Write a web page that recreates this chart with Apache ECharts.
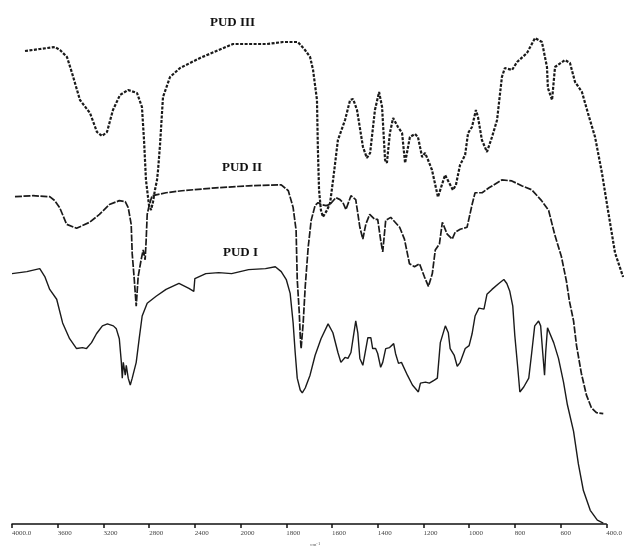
<!DOCTYPE html>
<html>
<head>
<meta charset="utf-8">
<script src="https://cdn.jsdelivr.net/npm/echarts@6/dist/echarts.min.js"></script>
<style>
    html, body { margin: 0; padding: 0; background: #fff; }
    #chart { width: 625px; height: 552px; }
</style>
</head>
<body>
<div id="chart"></div>
<script>
// 横轴刻度（红外谱常见的双比例：4000-2000 每格400，2000-400 每格200）
const tickLabels = ['4000.0', '3600', '3200', '2800', '2400', '2000', '1800', '1600',
    '1400', '1200', '1000', '800', '600', '400.0'];

// PUD III（点线）
const pud3Wn = [3887, 3757, 3626, 3583, 3522, 3478, 3409, 3322, 3261, 3217, 3174, 3122, 3061,
    2991, 2913, 2870, 2852, 2835, 2809, 2791, 2774, 2757, 2739, 2730, 2713, 2687, 2626, 2539,
    2365, 2078, 1891, 1822, 1757, 1726, 1704, 1691, 1674, 1670, 1665, 1657, 1648, 1630, 1617,
    1604, 1583, 1552, 1530, 1517, 1500, 1474, 1457, 1443, 1422, 1404, 1391, 1378, 1370, 1357,
    1343, 1322, 1304, 1291, 1270, 1248, 1235, 1217, 1204, 1191, 1174, 1148, 1117, 1083, 1070,
    1052, 1030, 1017, 1000, 983, 974, 957, 935, 913, 891, 870, 857, 826, 804, 761, 726, 696,
    674, 670, 652, 639, 596, 574, 552, 522, 496, 465, 435, 409, 378, 343];
const pud3T = [96.0, 96.4, 96.8, 96.2, 94.8, 91.6, 86.2, 83.6, 79.8, 79.0, 79.8, 84.2, 87.2,
    88.2, 87.6, 84.8, 78.2, 70.2, 65.2, 64.2, 65.8, 68.2, 70.2, 72.2, 77.2, 86.8, 90.8, 92.6,
    94.6, 97.4, 97.4, 97.8, 97.8, 96.2, 94.8, 92.2, 86.2, 76.2, 68.2, 64.2, 62.8, 64.2, 65.6,
    70.2, 78.2, 82.2, 86.2, 86.4, 84.2, 76.8, 74.6, 75.6, 84.2, 87.8, 84.8, 74.2, 73.6, 79.6,
    82.6, 80.8, 79.6, 73.6, 78.8, 79.4, 78.8, 74.8, 75.6, 74.2, 72.2, 66.8, 71.2, 68.2, 69.2,
    73.2, 75.2, 79.6, 80.8, 84.2, 82.8, 78.2, 75.8, 78.8, 82.2, 90.8, 92.6, 92.2, 93.8, 95.6, 98.6, 97.8,
    92.8, 88.6, 86.2, 92.8, 94.2, 93.6, 89.8, 87.8, 83.6, 78.8, 71.6, 64.2, 55.6, 50.8];

// PUD II（虚线）
const pud2Wn = [3974, 3817, 3670, 3626, 3583, 3522, 3435, 3322, 3235, 3148, 3061, 3009, 2983,
    2957, 2948, 2930, 2913, 2896, 2870, 2852, 2835, 2826, 2817, 2800, 2774, 2652, 2513, 2217,
    1965, 1822, 1791, 1770, 1757, 1752, 1743, 1739, 1735, 1726, 1717, 1704, 1691, 1674, 1661,
    1648, 1626, 1609, 1583, 1565, 1552, 1539, 1517, 1496, 1478, 1465, 1452, 1435, 1413, 1400,
    1387, 1378, 1365, 1343, 1304, 1283, 1261, 1239, 1217, 1196, 1178, 1161, 1148, 1130, 1117,
    1096, 1074, 1061, 1039, 1009, 987, 974, 943, 913, 857, 813, 770, 726, 683, 652, 626, 596,
    574, 561, 543, 530, 509, 487, 465, 443, 413];
const pud2T = [66.4, 66.6, 66.4, 65.6, 64.2, 60.8, 60.0, 61.2, 62.8, 64.8, 65.6, 65.4, 64.2,
    60.8, 54.8, 49.6, 44.2, 50.2, 53.6, 55.6, 53.6, 57.6, 62.8, 64.6, 66.6, 67.2, 67.6, 68.2,
    68.6, 68.8, 67.6, 64.2, 59.6, 49.6, 42.8, 38.2, 35.6, 40.8, 48.2, 56.2, 61.6, 64.6, 65.2,
    64.8, 64.6, 64.8, 66.2, 65.8, 65.2, 63.8, 66.6, 65.8, 60.2, 57.8, 60.8, 62.8, 61.8, 61.8,
    57.6, 55.2, 61.6, 62.2, 60.2, 57.8, 52.8, 52.2, 52.8, 50.2, 48.2, 50.8, 55.6, 56.8, 61.2,
    58.8, 57.8, 59.2, 59.8, 60.2, 64.8, 67.2, 67.2, 68.2, 69.8, 69.6, 68.6, 67.8, 65.6, 63.6, 58.8, 54.2,
    49.2, 45.2, 41.2, 36.2, 30.6, 26.2, 23.6, 22.6, 22.4];

// PUD I（实线）
const pud1Wn = [4000, 3870, 3757, 3713, 3670, 3609, 3557, 3496, 3435, 3383, 3348, 3304, 3261,
    3209, 3165, 3113, 3087, 3061, 3043, 3035, 3026, 3009, 3000, 2983, 2965, 2948, 2913, 2887,
    2861, 2817, 2739, 2652, 2539, 2452, 2409, 2400, 2304, 2191, 2078, 1965, 1891, 1848, 1822,
    1800, 1783, 1770, 1761, 1752, 1739, 1730, 1717, 1696, 1674, 1648, 1617, 1596, 1574, 1561,
    1543, 1530, 1517, 1504, 1496, 1487, 1478, 1465, 1457, 1443, 1430, 1422, 1409, 1400, 1387,
    1378, 1365, 1348, 1330, 1322, 1309, 1296, 1270, 1248, 1222, 1213, 1191, 1174, 1152, 1139,
    1126, 1104, 1091, 1083, 1065, 1052, 1039, 1017, 1000, 987, 974, 957, 935, 922, 900, 870,
    848, 835, 822, 809, 800, 787, 778, 761, 739, 726, 713, 696, 687, 678, 670, 665, 657, 652,
    630, 609, 587, 570, 543, 522, 500, 470, 439, 413];
const pud1T = [50.8, 51.2, 51.8, 50.2, 47.6, 45.6, 40.8, 37.6, 35.6, 35.8, 35.6, 36.8, 38.6,
    40.2, 40.6, 40.2, 39.6, 37.6, 32.8, 29.6, 32.8, 30.2, 32.2, 29.6, 28.2, 29.6, 32.8, 37.6,
    42.2, 44.8, 46.2, 47.6, 48.8, 47.8, 47.2, 49.8, 50.8, 51.0, 50.8, 51.6, 51.8, 52.2, 51.2,
    49.6, 46.8, 40.8, 34.8, 29.6, 27.2, 26.6, 27.6, 30.2, 34.2, 37.6, 40.6, 38.8, 34.8, 32.8,
    33.8, 33.6, 34.8, 38.8, 41.2, 38.8, 33.6, 32.2, 34.2, 37.8, 37.8, 35.6, 35.6, 34.6, 31.8,
    32.8, 35.6, 35.8, 36.6, 34.6, 32.6, 32.8, 30.2, 28.2, 26.8, 28.6, 28.8, 28.6, 29.2, 29.6,
    36.8, 40.2, 38.8, 35.6, 34.2, 32.0, 32.8, 35.6, 36.2, 38.6, 42.2, 43.8, 43.6, 46.6, 47.6, 48.8,
    49.6, 48.8, 47.2, 44.2, 38.2, 31.6, 26.8, 27.8, 29.6, 34.8, 40.2, 41.2, 40.2, 34.8, 30.2, 34.8, 39.8, 39.8,
    36.8, 33.6, 28.8, 24.2, 18.8, 12.2, 6.8, 2.8, 0.8, 0.2];

// 波数 -> 轴位置（两段线性）
function toPos(wn) {
    return wn >= 2000 ? (4000 - wn) / 400 : 5 + (2000 - wn) / 200;
}

function buildData(wn, t) {
    return wn.map((w, i) => [toPos(w), t[i]]);
}

const chart = echarts.init(document.getElementById('chart'));

const lineColor = '#1a1a1a';

// PUD III 的末端越过 400 刻度，放在一个更宽的隐藏坐标系里（每格同为 46px）
const extMax = 13.3;

const option = {
    animation: false,
    backgroundColor: '#fff',
    grid: [
        { left: 12, right: 15, top: 31, bottom: 21 },
        { left: 12, right: 625 - 12 - 46 * extMax, top: 31, bottom: 21 }
    ],
    xAxis: [
        {
            type: 'value',
            gridIndex: 0,
            min: 0,
            max: 13,
            interval: 1,
            name: 'cm\u207B\u00B9',
            nameLocation: 'middle',
            nameGap: 16,
            nameTextStyle: {
                fontFamily: 'Liberation Serif',
                fontSize: 5,
                color: '#555',
                padding: [0, 0, 0, 12]
            },
            axisLine: {
                show: true,
                onZero: false,
                lineStyle: { color: '#111', width: 1.5 }
            },
            axisTick: {
                show: true,
                length: 4,
                lineStyle: { color: '#111', width: 1.5 }
            },
            splitLine: { show: false },
            axisLabel: {
                show: true,
                showMinLabel: true,
                showMaxLabel: true,
                align: 'left',
                margin: 6,
                fontFamily: 'Liberation Serif',
                fontSize: 7,
                color: '#444',
                formatter: function(v) {
                    return tickLabels[Math.round(v)];
                }
            }
        },
        {
            type: 'value',
            gridIndex: 1,
            min: 0,
            max: extMax,
            show: false
        }
    ],
    yAxis: [
        { type: 'value', gridIndex: 0, min: 0, max: 100, show: false },
        { type: 'value', gridIndex: 1, min: 0, max: 100, show: false }
    ],
    graphic: [
        {
            type: 'text', left: 210, top: 16,
            style: { text: 'PUD III', font: 'bold 13px "Liberation Serif"', fill: '#111' }
        },
        {
            type: 'text', left: 222, top: 161,
            style: { text: 'PUD II', font: 'bold 13px "Liberation Serif"', fill: '#111' }
        },
        {
            type: 'text', left: 223, top: 246,
            style: { text: 'PUD I', font: 'bold 13px "Liberation Serif"', fill: '#111' }
        }
    ],
    series: [
        {
            name: 'PUD III',
            type: 'line',
            xAxisIndex: 1,
            yAxisIndex: 1,
            symbol: 'none',
            data: buildData(pud3Wn, pud3T),
            lineStyle: { color: lineColor, width: 2.2, type: [3, 1.5] }
        },
        {
            name: 'PUD II',
            type: 'line',
            symbol: 'none',
            clip: false,
            data: buildData(pud2Wn, pud2T),
            lineStyle: { color: lineColor, width: 1.7, type: [7, 1.5] }
        },
        {
            name: 'PUD I',
            type: 'line',
            symbol: 'none',
            clip: false,
            data: buildData(pud1Wn, pud1T),
            lineStyle: { color: lineColor, width: 1.4 }
        }
    ]
};

chart.setOption(option);
</script>
</body>
</html>
